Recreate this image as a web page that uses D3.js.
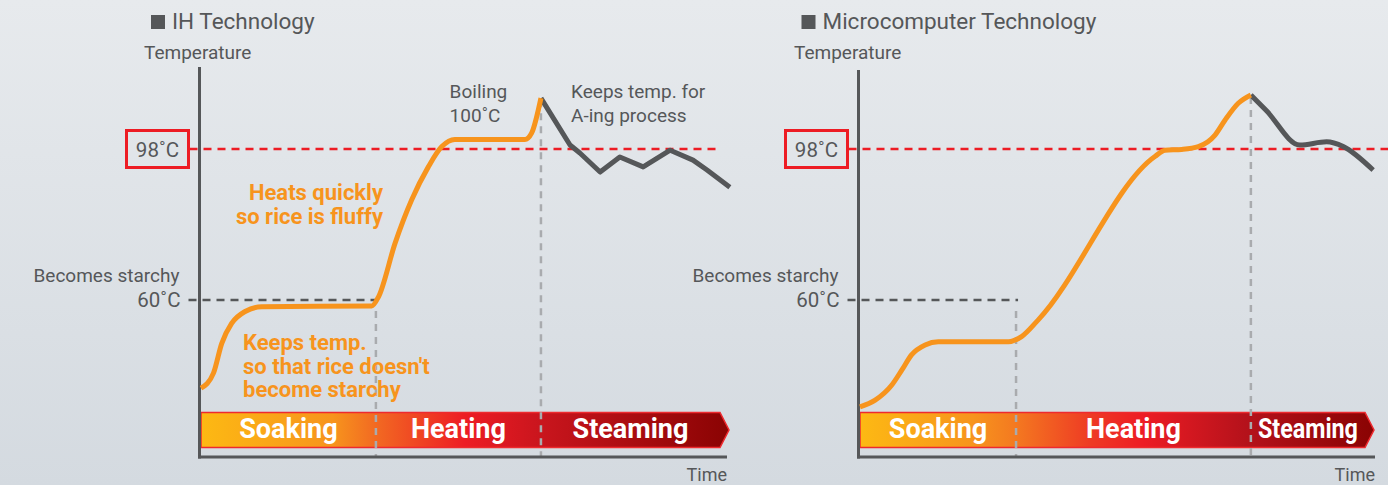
<!DOCTYPE html>
<html>
<head>
<meta charset="utf-8">
<script src="https://cdn.jsdelivr.net/npm/d3@7"></script>
<style>
  body { margin: 0; overflow: hidden; }
  svg { display: block; font-family: Roboto, "Noto Sans", sans-serif; }
</style>
</head>
<body>
<div id="vis"></div>
<script>
const width = 1388;
const height = 485;

// phases of the cooking cycle
const phases = ['Soaking', 'Heating', 'Steaming'];
// reference temperatures (°C): boiling limit and starch point
const markerTemps = [98, 60];
const markerLabels = ['98˚C', '60˚C'];

// IH technology: time in % of the cycle, temperature in °C
const ihPhaseEnds = [33.7, 65.5];
const ihHeatTime = [0, 2.4, 4, 5.9, 8.5, 11.7, 32.9, 34.2, 37.4, 40.6, 43.8, 46.4, 48.9, 62.4, 63.7, 65.5];
const ihHeatTemp = [37.8, 41.6, 49.1, 54.1, 57.1, 58.3, 58.5, 60.8, 74.3, 85.2, 93.5, 98.6, 100.4, 100.4, 102, 110.8];
const ihSteamTime = [65.5, 71.1, 73.0, 76.9, 80.7, 85.2, 90.4, 94.8, 97.5, 101.9];
const ihSteamTemp = [110.8, 99, 97, 92.2, 96, 93.5, 97.7, 95.2, 92.7, 88.4];

// Microcomputer technology
const mcPhaseEnds = [30.9, 77.4];
const mcHeatTime = [0, 3, 6.3, 8.3, 10.2, 12.9, 15.5, 29.4, 32, 35.3, 58.4, 60.4, 63.7, 67, 70.3, 72.3, 74.9, 77.4];
const mcHeatTemp = [33.1, 34.8, 38.6, 42.4, 46.2, 48.7, 49.5, 49.5, 50.8, 55, 96.1, 97.7, 97.9, 98.6, 101.5, 105.3, 109.5, 111.6];
const mcSteamTime = [77.4, 80.5, 87.1, 92.4, 95.7, 101.6];
const mcSteamTemp = [111.6, 107.6, 99, 99.8, 98.6, 92.7];

const grey = '#555759';
const orange = '#f7941d';
const red = '#ed1c24';

let vis = d3.select('#vis')
            .append('svg')
            .attr('width', width)
            .attr('height', height);

const defs = vis.append('defs');

// background
const bg = defs.append('linearGradient').attr('id', 'bg')
               .attr('x1', 0).attr('y1', 0).attr('x2', 0).attr('y2', 1);
bg.append('stop').attr('offset', 0).attr('stop-color', '#e7eaed');
bg.append('stop').attr('offset', 1).attr('stop-color', '#d4dae0');
vis.append('rect').attr('width', width).attr('height', height).attr('fill', 'url(#bg)');

// shared temperature scale
const y = d3.scaleLinear().domain(markerTemps).range([149, 300]);

const charts = [
    {
        id: 'ih', title: 'IH Technology',
        range: [201, 720], titleX: 151, tempX: 144, axisTop: 67, axisEnd: 727, refEnd: 720,
        phaseEnds: ihPhaseEnds,
        heat: ihHeatTime.map((t, i) => [t, ihHeatTemp[i]]),
        steam: ihSteamTime.map((t, i) => [t, ihSteamTemp[i]]),
        steamCurve: d3.curveLinear,
        stops: [[0, '#fdb913'], [0.25, '#f7941d'], [0.33, '#f26a22'], [0.5, '#ed1c24'], [0.65, '#c8151d'], [1, '#8a0303']],
        steamingLength: null
    },
    {
        id: 'mc', title: 'Microcomputer Technology',
        range: [860, 1365], titleX: 801.5, tempX: 794, axisTop: 70, axisEnd: 1375, refEnd: 1388,
        phaseEnds: mcPhaseEnds,
        heat: mcHeatTime.map((t, i) => [t, mcHeatTemp[i]]),
        steam: mcSteamTime.map((t, i) => [t, mcSteamTemp[i]]),
        steamCurve: d3.curveMonotoneX,
        stops: [[0, '#fdb913'], [0.22, '#f7941d'], [0.3, '#f47a20'], [0.45, '#ee3a24'], [0.55, '#ed1c24'], [0.75, '#b5121b'], [1, '#8a0303']],
        steamingLength: 100
    }
];

charts.forEach(drawChart);

// IH-only annotations
const ihX = d3.scaleLinear().domain([0, 100]).range(charts[0].range);
annotate([ 'Heats quickly', 'so rice is fluffy' ], 383, 200, 'end', orange, true);
annotate([ 'Keeps temp.', 'so that rice doesn\'t', 'become starchy' ], 243, 350, 'start', orange, true);
annotate([ 'Boiling', '100˚C' ], ihX(47.9), 98, 'start', grey, false);
annotate([ 'Keeps temp. for', 'A-ing process' ], ihX(71.3), 98, 'start', grey, false);

function annotate(lines, x, yTop, anchor, color, bold) {
    const t = vis.append('text')
                 .attr('x', x).attr('y', yTop)
                 .attr('text-anchor', anchor)
                 .attr('fill', color)
                 .attr('font-size', bold ? 22 : 19)
                 .attr('font-weight', bold ? 700 : 400);
    t.selectAll('tspan').data(lines).enter().append('tspan')
     .attr('x', x)
     .attr('dy', (d, i) => i === 0 ? 0 : 23.5)
     .text(d => d);
}

function drawChart(c) {
    const x = d3.scaleLinear().domain([0, 100]).range(c.range);
    const g = vis.append('g');
    const axisX = c.range[0] - 1.5;
    const axisY = 457;

    // title
    g.append('rect').attr('x', c.titleX).attr('y', 15).attr('width', 14).attr('height', 14).attr('fill', grey);
    g.append('text').attr('x', c.titleX + 21).attr('y', 29)
     .attr('font-size', 22.5).attr('fill', grey).text(c.title);
    g.append('text').attr('x', c.tempX).attr('y', 59)
     .attr('font-size', 19).attr('fill', grey).text('Temperature');

    // phase band with arrow tip
    const grad = defs.append('linearGradient').attr('id', 'band-' + c.id)
                     .attr('x1', 0).attr('y1', 0).attr('x2', 1).attr('y2', 0);
    grad.selectAll('stop').data(c.stops).enter().append('stop')
        .attr('offset', d => d[0]).attr('stop-color', d => d[1]);
    const bx0 = x(0), bx1 = x(100), top = 412.5, bot = 447.5;
    g.append('path')
     .attr('d', `M${bx0},${top}H${bx1}L${bx1 + 9},${(top + bot) / 2}L${bx1},${bot}H${bx0}Z`)
     .attr('fill', `url(#band-${c.id})`)
     .attr('stroke', '#ee2a2f').attr('stroke-width', 1.5);

    const bounds = [0, ...c.phaseEnds, 100];
    g.selectAll('.phase').data(phases).enter().append('text')
     .attr('x', (d, i) => x((bounds[i] + bounds[i + 1]) / 2))
     .attr('y', 438)
     .attr('text-anchor', 'middle')
     .attr('font-size', 27).attr('font-weight', 700).attr('fill', '#fff')
     .each(function(d, i) {
         if (i === 2 && c.steamingLength) {
             d3.select(this).attr('textLength', c.steamingLength).attr('lengthAdjust', 'spacingAndGlyphs');
         }
     })
     .text(d => d);

    // phase boundaries
    const peak = c.heat[c.heat.length - 1][1];
    g.selectAll('.bound').data(c.phaseEnds).enter().append('line')
     .attr('x1', d => x(d)).attr('x2', d => x(d))
     .attr('y1', (d, i) => i === 0 ? y(markerTemps[1]) + 11 : y(peak) + 2)
     .attr('y2', axisY)
     .attr('stroke', '#a9abae').attr('stroke-width', 2.5).attr('stroke-dasharray', '7,6');

    // 98°C reference
    g.append('line')
     .attr('x1', axisX - 10).attr('x2', c.refEnd)
     .attr('y1', y(markerTemps[0])).attr('y2', y(markerTemps[0]))
     .attr('stroke', red).attr('stroke-width', 2.5).attr('stroke-dasharray', '8,6');
    g.append('rect')
     .attr('x', axisX - 73).attr('y', y(markerTemps[0]) - 18.5)
     .attr('width', 62).attr('height', 37)
     .attr('fill', 'none').attr('stroke', red).attr('stroke-width', 3);
    g.append('text')
     .attr('x', axisX - 42).attr('y', y(markerTemps[0]) + 7.5)
     .attr('text-anchor', 'middle').attr('font-size', 20.5).attr('fill', grey)
     .text(markerLabels[0]);

    // 60°C reference
    g.append('line')
     .attr('x1', axisX - 11).attr('x2', x(c.phaseEnds[0]) + 2)
     .attr('y1', y(markerTemps[1])).attr('y2', y(markerTemps[1]))
     .attr('stroke', grey).attr('stroke-width', 2.5).attr('stroke-dasharray', '8,6');
    g.append('text')
     .attr('x', axisX - 19).attr('y', y(markerTemps[1]) + 7)
     .attr('text-anchor', 'end').attr('font-size', 20.5).attr('fill', grey)
     .text(markerLabels[1]);
    g.append('text')
     .attr('x', axisX - 20).attr('y', y(markerTemps[1]) - 18)
     .attr('text-anchor', 'end').attr('font-size', 19).attr('fill', grey)
     .text('Becomes starchy');

    // axes
    g.append('line').attr('x1', axisX).attr('x2', axisX)
     .attr('y1', c.axisTop).attr('y2', axisY + 1.5)
     .attr('stroke', grey).attr('stroke-width', 3);
    g.append('line').attr('x1', axisX - 1.5).attr('x2', c.axisEnd)
     .attr('y1', axisY).attr('y2', axisY)
     .attr('stroke', grey).attr('stroke-width', 3);
    g.append('text').attr('x', c.axisEnd).attr('y', 481)
     .attr('text-anchor', 'end').attr('font-size', 18).attr('fill', grey).text('Time');

    // temperature curves
    const heatLine = d3.line().x(d => x(d[0])).y(d => y(d[1])).curve(d3.curveMonotoneX);
    const steamLine = d3.line().x(d => x(d[0])).y(d => y(d[1])).curve(c.steamCurve);
    g.append('path').attr('d', steamLine(c.steam))
     .attr('fill', 'none').attr('stroke', grey).attr('stroke-width', 5)
     .attr('stroke-linejoin', 'round');
    g.append('path').attr('d', heatLine(c.heat))
     .attr('fill', 'none').attr('stroke', orange).attr('stroke-width', 5)
     .attr('stroke-linejoin', 'round');
}
</script>
</body>
</html>
